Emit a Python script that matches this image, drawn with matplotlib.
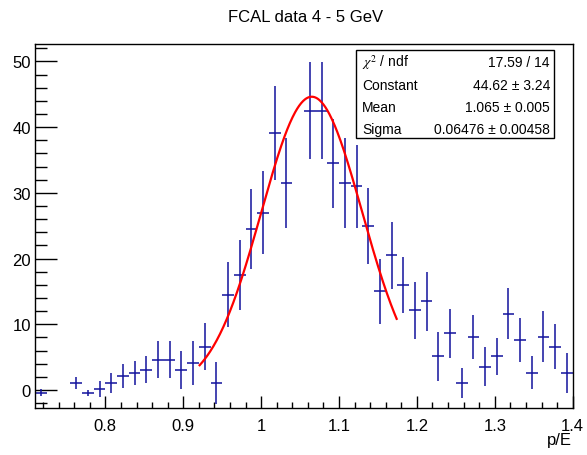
import numpy as np
import matplotlib
matplotlib.use("Agg")
import matplotlib.pyplot as plt
from matplotlib.ticker import MultipleLocator
from matplotlib.patches import Rectangle

plt.rcParams['font.family'] = ['Liberation Sans', 'DejaVu Sans']
plt.rcParams['mathtext.fontset'] = 'stix'

# histogram: 46 bins of 0.015 from 0.71 to 1.4 (None = empty bin, not drawn)
xmin = 0.71
binw = 0.015
counts = [-0.4, None, None, 1.0, -0.45, 0.1, 1.05, 2.1, 2.6, 3.1,
          4.6, 4.6, 3.1, 4.1, 6.6, 1.05, 14.5, 17.5, 24.5, 27.0,
          39.1, 31.5, None, 42.5, 42.5, 34.5, 31.5, 31.0, 25.0, 15.0,
          20.5, 16.0, 12.1, 13.5, 5.1, 8.6, 1.05, 8.1, 3.55, 5.1,
          11.6, 7.6, 2.6, 8.1, 6.6, 2.6]
errors = [0.5, 0, 0, 0.9, 0.5, 1.2, 1.55, 1.85, 1.8, 2.05,
          2.85, 2.8, 2.9, 3.35, 3.6, 3.25, 4.9, 5.3, 6.1, 6.3,
          7.2, 6.8, 0, 7.4, 7.4, 6.8, 6.8, 6.3, 5.8, 4.9,
          5.1, 4.3, 4.4, 4.5, 3.75, 3.7, 2.3, 3.35, 3.0, 2.8,
          3.9, 3.35, 2.5, 3.9, 3.4, 3.0]

# gaussian fit results
fit_const = 44.62
fit_mean = 1.065
fit_sigma = 0.06476
fit_range = (0.921, 1.174)

stat_labels = [r'$\chi^{2}$ / ndf', 'Constant', 'Mean', 'Sigma']
stat_values = ['17.59 / 14', '44.62 ± 3.24', '1.065 ± 0.005',
               '0.06476 ± 0.00458']

fig = plt.figure(figsize=(5.87, 4.56), dpi=100)
ax = fig.add_axes([0.0601, 0.1031, 0.9155, 0.7976])

centers = []
vals = []
errs = []
for i, c in enumerate(counts):
    if c is None:
        continue
    centers.append(xmin + binw * (i + 0.5))
    vals.append(c)
    errs.append(errors[i])

ax.errorbar(centers, vals, xerr=binw / 2, yerr=errs, fmt='none',
            ecolor='#12129c', elinewidth=1.1, capsize=0)

xf = np.linspace(fit_range[0], fit_range[1], 300)
yf = fit_const * np.exp(-0.5 * ((xf - fit_mean) / fit_sigma) ** 2)
ax.plot(xf, yf, color='#ff0000', lw=1.6)

ax.set_xlim(0.71, 1.4)
ax.set_ylim(-2.74, 52.6)

ax.xaxis.set_major_locator(MultipleLocator(0.1))
ax.xaxis.set_minor_locator(MultipleLocator(0.02))
ax.yaxis.set_major_locator(MultipleLocator(10))
ax.yaxis.set_minor_locator(MultipleLocator(2))
ax.xaxis.set_major_formatter(plt.FuncFormatter(lambda v, p: ('%.1f' % v).rstrip('0').rstrip('.') if abs(v - round(v)) > 1e-6 else '%d' % round(v)))
ax.tick_params(which='both', direction='in', top=False, right=False,
               labelsize=12, width=1)
ax.tick_params(axis='x', which='major', length=9, pad=7)
ax.tick_params(axis='x', which='minor', length=4.5)
ax.tick_params(axis='y', which='major', length=16, pad=3)
ax.tick_params(axis='y', which='minor', length=8.5)
for s in ax.spines.values():
    s.set_linewidth(1.0)

fig.text(0.52, 0.962, 'FCAL data 4 - 5 GeV', ha='center', va='center', fontsize=12)
fig.text(0.975, 0.035, 'p/E', ha='right', va='center', fontsize=12)

# stats box (figure pixel coords)
W, H = 587.0, 456.0
bx0, by0, bx1, by1 = 356, 51, 554, 139
fig.patches.append(Rectangle((bx0 / W, 1 - by1 / H), (bx1 - bx0) / W, (by1 - by0) / H,
                             transform=fig.transFigure, facecolor='white',
                             edgecolor='black', lw=1.0, zorder=5))
rows_y = [63, 85.5, 108, 130]
for lab, val, ry in zip(stat_labels, stat_values, rows_y):
    fig.text(362 / W, 1 - ry / H, lab, ha='left', va='center', fontsize=10, zorder=6)
    fig.text(550 / W, 1 - ry / H, val, ha='right', va='center', fontsize=10, zorder=6)

fig.savefig('out.png', dpi=100)
